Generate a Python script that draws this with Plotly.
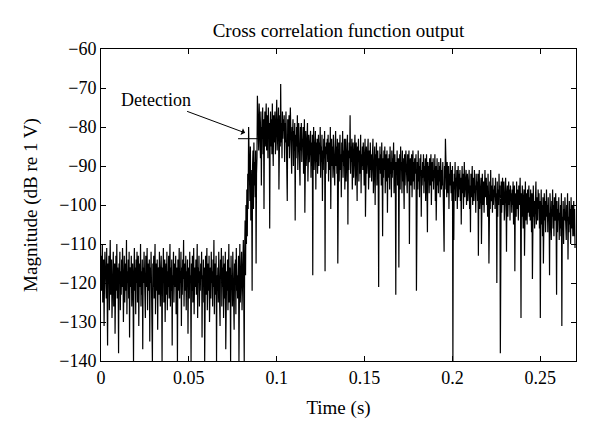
import plotly.graph_objects as go

# Sample spacing of the cross-correlation output (s)
SAMPLE_DT = 0.00025

# Pre-arrival noise, 0 - 0.08075 s (dB re 1 V)
noise_before = [
    -113,-122,-116,-110,-125,-118,-114,-131,-119,-112,-121,-117,
    -124,-111,-119,-136,-115,-120,-113,-127,-116,-109,-123,-118,
    -114,-129,-117,-121,-112,-126,-119,-115,-133,-118,-113,-122,
    -110,-124,-116,-120,-138,-115,-119,-112,-127,-117,-123,-114,
    -121,-111,-118,-130,-116,-113,-125,-119,-115,-122,-109,-128,
    -117,-120,-114,-124,-112,-134,-118,-116,-121,-113,-126,-119,
    -115,-123,-140,-117,-111,-122,-116,-128,-114,-120,-112,-125,
    -118,-113,-131,-119,-115,-121,-110,-126,-117,-123,-114,-137,
    -116,-120,-112,-124,-118,-129,-113,-121,-117,-111,-127,-115,
    -122,-119,-114,-135,-116,-120,-112,-125,-118,-140,-115,-121,
    -113,-124,-117,-110,-128,-119,-115,-122,-114,-132,-118,-116,
    -123,-112,-120,-126,-117,-113,-121,-140,-116,-119,-111,-125,
    -118,-114,-130,-120,-115,-123,-112,-127,-117,-121,-113,-124,
    -119,-110,-126,-116,-122,-114,-136,-118,-120,-112,-125,-117,
    -115,-121,-113,-128,-119,-116,-140,-114,-122,-118,-111,-124,
    -117,-120,-112,-131,-116,-123,-114,-119,-109,-126,-118,-115,
    -122,-113,-127,-117,-121,-114,-133,-119,-116,-124,-112,-120,
    -118,-140,-115,-122,-113,-125,-117,-111,-128,-119,-116,-121,
    -114,-123,-118,-110,-129,-116,-120,-113,-126,-117,-122,-115,
    -119,-112,-134,-118,-121,-114,-125,-116,-140,-120,-113,-123,
    -117,-111,-127,-119,-115,-122,-113,-130,-118,-116,-124,-112,
    -120,-117,-126,-114,-121,-109,-128,-119,-115,-123,-113,-140,
    -118,-122,-116,-125,-112,-120,-117,-131,-114,-119,-111,-126,
    -116,-121,-113,-129,-118,-115,-124,-112,-137,-119,-117,-122,
    -114,-127,-120,-110,-125,-116,-119,-140,-113,-121,-118,-126,
    -112,-123,-117,-132,-115,-120,-114,-128,-111,-122,-118,-124,
    -116,-113,-140,-119,-110,-125,-115,-121,-112,-127,-117,-111,
]

# Onset / detection region, 0.081 - 0.08875 s
onset = [
    -109,-125,-140,-112,-104,-118,-100,-110,-96,-108,-92,-101,-80,-94,-88,-99,
    -85,-104,-91,-97,-122,-90,-86,-101,-84,-95,-89,-98,-86,-115,-92,-88,
]

# Main arrival and decay, 0.089 - 0.26975 s
arrival = [
    -72,-81,-77,-86,-74,-84,-79,-88,-76,-95,-80,-83,-75,-87,-78,-101,-82,-76,-85,-79,
    -74,-86,-80,-77,-88,-75,-83,-79,-106,-81,-76,-85,-78,-87,-74,-82,-90,-77,-84,-80,
    -76,-87,-79,-83,-73,-86,-78,-82,-75,-96,-80,-77,-85,-69,-84,-79,-88,-76,-83,-78,
    -81,-77,-89,-79,-84,-76,-87,-80,-99,-78,-85,-82,-77,-88,-81,-75,-86,-79,-92,-80,
    -83,-78,-90,-81,-86,-79,-104,-82,-88,-80,-85,-77,-91,-83,-79,-87,-82,-95,-80,-86,
    -79,-89,-83,-85,-80,-92,-84,-78,-102,-86,-81,-90,-83,-88,-79,-94,-85,-82,-89,-84,
    -87,-81,-93,-84,-90,-82,-118,-86,-80,-91,-85,-88,-81,-96,-84,-89,-83,-92,-86,-82,
    -90,-84,-87,-80,-93,-85,-89,-82,-99,-86,-91,-83,-88,-81,-117,-85,-92,-84,-87,-83,
    -89,-82,-94,-86,-84,-91,-80,-101,-87,-83,-90,-85,-93,-82,-88,-84,-95,-86,-81,-90,
    -85,-92,-83,-115,-88,-84,-94,-86,-82,-91,-87,-98,-84,-89,-81,-93,-86,-90,-83,-96,
    -87,-83,-94,-85,-90,-82,-105,-86,-91,-84,-88,-77,-92,-85,-89,-83,-96,-87,-84,-93,
    -86,-90,-82,-95,-87,-84,-91,-99,-85,-89,-83,-94,-88,-86,-92,-82,-97,-87,-90,-85,
    -91,-84,-88,-95,-86,-83,-103,-89,-85,-92,-87,-90,-83,-96,-88,-86,-93,-84,-91,-87,
    -94,-86,-89,-83,-97,-88,-92,-85,-100,-87,-90,-84,-95,-89,-86,-93,-121,-88,-91,-85,
    -92,-87,-95,-84,-90,-108,-88,-93,-86,-91,-85,-97,-89,-87,-94,-86,-102,-90,-88,-93,
    -87,-96,-85,-92,-89,-98,-86,-93,-88,-91,-84,-97,-90,-87,-94,-123,-89,-92,-86,-95,
    -90,-88,-116,-93,-87,-96,-85,-91,-89,-97,-86,-94,-88,-92,-101,-87,-95,-90,-86,-93,
    -89,-97,-87,-94,-91,-86,-110,-92,-88,-95,-90,-87,-98,-91,-86,-94,-89,-96,-88,-92,
    -91,-87,-122,-93,-89,-96,-86,-94,-90,-98,-88,-92,-87,-103,-91,-95,-89,-93,-87,-97,
    -90,-94,-88,-99,-91,-87,-96,-107,-89,-93,-90,-97,-88,-95,-91,-87,-100,-92,-89,-94,
    -88,-96,-91,-93,-87,-99,-90,-104,-92,-88,-95,-91,-97,-89,-94,-90,-98,-88,-93,-96,
    -91,-95,-89,-100,-92,-112,-90,-96,-83,-94,-91,-98,-89,-93,-97,-90,-101,-92,-95,-89,
    -93,-97,-91,-99,-90,-140,-94,-109,-92,-96,-89,-99,-93,-95,-91,-101,-94,-90,-98,-92,
    -96,-91,-99,-93,-105,-94,-90,-97,-92,-101,-95,-89,-98,-93,-96,-91,-100,-94,-92,-99,
    -93,-97,-91,-101,-95,-107,-92,-98,-94,-90,-100,-96,-93,-99,-91,-97,-95,-102,-92,-96,
    -94,-99,-92,-113,-96,-91,-101,-95,-98,-93,-110,-97,-92,-100,-95,-94,-102,-96,-91,-98,
    -97,-93,-100,-95,-103,-92,-98,-115,-96,-94,-101,-91,-99,-97,-95,-102,-93,-100,-96,-98,
    -95,-101,-93,-99,-97,-120,-94,-103,-96,-100,-92,-98,-95,-138,-99,-94,-102,-97,-93,-100,
    -98,-94,-104,-96,-101,-93,-99,-112,-97,-95,-103,-98,-94,-100,-96,-104,-95,-99,-97,-102,
    -96,-100,-94,-105,-98,-95,-117,-99,-97,-103,-94,-101,-96,-99,-104,-95,-100,-98,-93,-102,
    -129,-97,-103,-95,-100,-106,-98,-96,-113,-99,-94,-104,-101,-97,-105,-96,-102,-99,-95,-103,
    -98,-104,-96,-101,-107,-97,-119,-100,-95,-103,-99,-106,-97,-102,-94,-105,-100,-98,-104,-96,
    -101,-97,-106,-99,-129,-103,-96,-105,-100,-108,-98,-115,-102,-97,-104,-99,-107,-101,-96,-103,
    -100,-107,-98,-104,-102,-118,-97,-105,-101,-109,-99,-103,-96,-106,-100,-108,-98,-104,-102,-97,
    -105,-123,-99,-107,-101,-104,-98,-109,-102,-106,-100,-108,-97,-131,-103,-105,-99,-110,-101,-104,
    -98,-106,-102,-109,-100,-104,-97,-114,-103,-107,-99,-105,-101,-110,-98,-106,-104,-100,-108,-102,
    -99,-108,-101,-111,
]

magnitude = noise_before + onset + arrival

# Detection marker (threshold level and arrow target)
threshold_db = -83
threshold_span = [0.078, 0.0905]
detection_point = (0.0820, -81.5)

x_ticks = [0, 0.05, 0.1, 0.15, 0.2, 0.25]
x_tick_text = ["0", "0.05", "0.1", "0.15", "0.2", "0.25"]
y_ticks = [-140, -130, -120, -110, -100, -90, -80, -70, -60]
y_tick_text = ["\u2212140", "\u2212130", "\u2212120", "\u2212110", "\u2212100",
               "\u221290", "\u221280", "\u221270", "\u221260"]

FONT = "Liberation Serif"

fig = go.Figure()
fig.add_trace(go.Scatter(
    y=magnitude, x0=0, dx=SAMPLE_DT, mode="lines",
    line=dict(color="black", width=1.2), showlegend=False,
))

fig.add_shape(type="line", xref="x", yref="y",
              x0=threshold_span[0], x1=threshold_span[1],
              y0=threshold_db, y1=threshold_db,
              line=dict(color="black", width=1))

fig.add_annotation(
    x=detection_point[0], y=detection_point[1], xref="x", yref="y",
    text="Detection", showarrow=True, arrowhead=1, arrowsize=1.2,
    arrowwidth=1, arrowcolor="black", ax=-89, ay=-33,
    font=dict(family=FONT, size=18, color="black"),
)

axis_common = dict(
    showgrid=False, zeroline=False, showline=True, linecolor="black",
    linewidth=1, mirror="ticks", ticks="inside", ticklen=5, tickcolor="black",
    tickfont=dict(family=FONT, size=18, color="black"),
)

fig.update_layout(
    width=600, height=439,
    margin=dict(l=93, r=32, t=41, b=86),
    paper_bgcolor="white", plot_bgcolor="white",
    title=dict(text="Cross correlation function output", x=(93 + 568) / 2 / 600,
               xanchor="center", y=1 - 22 / 439, yanchor="middle",
               font=dict(family=FONT, size=19, color="black")),
    xaxis=dict(range=[0, 0.2703], tickvals=x_ticks, ticktext=x_tick_text,
               title=dict(text="Time (s)", font=dict(family=FONT, size=19, color="black"),
                          standoff=14),
               **axis_common),
    yaxis=dict(range=[-140, -60], tickvals=y_ticks, ticktext=y_tick_text,
               title=dict(text="Magnitude (dB re 1 V)",
                          font=dict(family=FONT, size=19, color="black"), standoff=16),
               **axis_common),
)

fig.write_html("out.html")
